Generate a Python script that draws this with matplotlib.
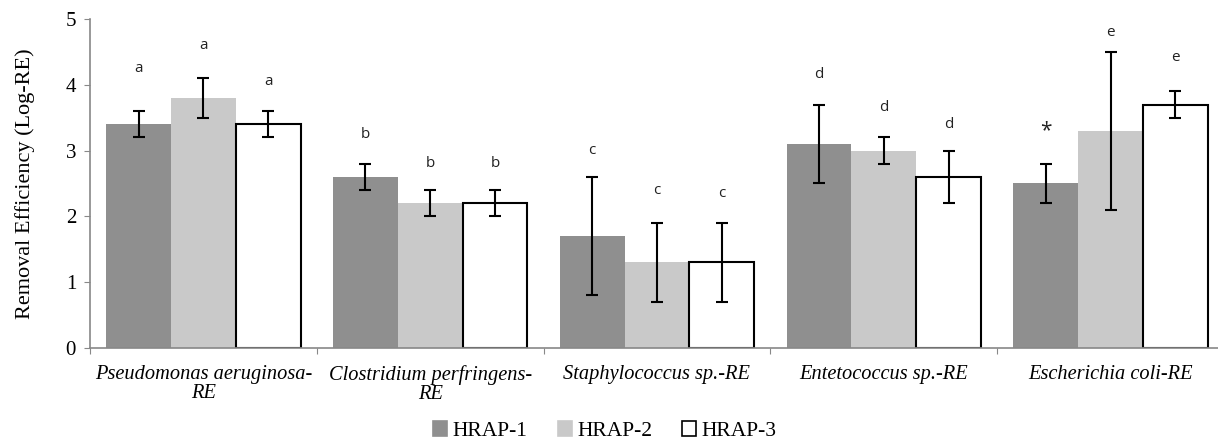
import numpy as np
import matplotlib
matplotlib.use("Agg")
import matplotlib.pyplot as plt

categories = ["Pseudomonas aeruginosa-\nRE", "Clostridium perfringens-\nRE",
              "Staphylococcus sp.-RE", "Entetococcus sp.-RE", "Escherichia coli-RE"]
series = ["HRAP-1", "HRAP-2", "HRAP-3"]
values = [
    [3.4, 2.6, 1.7, 3.1, 2.5],
    [3.8, 2.2, 1.3, 3.0, 3.3],
    [3.4, 2.2, 1.3, 2.6, 3.7],
]
errors = [
    [0.2, 0.2, 0.9, 0.6, 0.3],
    [0.3, 0.2, 0.6, 0.2, 1.2],
    [0.2, 0.2, 0.6, 0.4, 0.2],
]
letters = [
    ["a", "b", "c", "d", "*"],
    ["a", "b", "c", "d", "e"],
    ["a", "b", "c", "d", "e"],
]
letter_y = [
    [4.25, 3.25, 3.0, 4.15, 3.3],
    [4.6, 2.8, 2.4, 3.65, 4.8],
    [4.05, 2.8, 2.35, 3.4, 4.42],
]

colors = ["#8f8f8f", "#c9c9c9", "white"]
edges = ["#8f8f8f", "#c9c9c9", "black"]

fig = plt.figure(figsize=(12.18, 4.45), dpi=100)
ax = fig.add_axes([90 / 1218, 1 - 348 / 445, 1134 / 1218, (348 - 19) / 445])

x = np.arange(len(categories))
w = 0.286
for i in range(3):
    pos = x + (i - 1) * w
    ax.bar(pos, values[i], w, color=colors[i], edgecolor=edges[i],
           linewidth=1.5 if i == 2 else 0, zorder=2)
    ax.errorbar(pos, values[i], yerr=errors[i], fmt="none", ecolor="black",
                elinewidth=1.5, capsize=4, capthick=1.5, zorder=3)
    for j in range(len(categories)):
        lbl = letters[i][j]
        ax.text(pos[j], letter_y[i][j], lbl, ha="center", va="center",
                fontsize=15 if lbl == "*" else 11, family="Open Sans", color="#222222")

ax.set_xlim(-0.5, 4.5)
ax.set_ylim(0, 5)
ax.set_yticks(range(6))
ax.set_yticklabels([str(v) for v in range(6)], family="Liberation Serif", fontsize=15)
ax.set_xticks(np.arange(-0.5, 5, 1))
ax.set_xticklabels([])
ax.tick_params(axis="x", length=4, color="#888888", direction="out")
ax.tick_params(axis="y", length=4, color="#888888", direction="out", pad=6)
for j, c in enumerate(categories):
    ax.text(j, -0.26, c, ha="center", va="top", style="italic",
            family="Liberation Serif", fontsize=14.7, linespacing=1.0,
            transform=ax.transData)

for s in ["top", "right"]:
    ax.spines[s].set_visible(False)
for s in ["left", "bottom"]:
    ax.spines[s].set_color("#888888")
    ax.spines[s].set_linewidth(1.2)

ax.set_ylabel("Removal Efficiency (Log-RE)", family="Liberation Serif", fontsize=16, labelpad=22)

handles = [plt.Rectangle((0, 0), 1, 1, facecolor=colors[i], edgecolor=edges[i], linewidth=1.2)
           for i in range(3)]
fig.legend(handles, series, loc="lower center", bbox_to_anchor=(605 / 1218, -0.035), ncol=3,
           frameon=False, prop={"family": "Liberation Serif", "size": 15.5},
           handlelength=0.65, handleheight=0.65, handletextpad=0.25, columnspacing=1.4)

fig.savefig("out.png", dpi=100)
